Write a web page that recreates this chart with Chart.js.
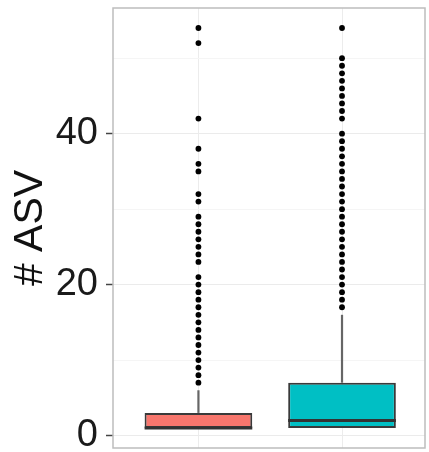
<!DOCTYPE html>
<html>
<head>
<meta charset="utf-8">
<script src="https://cdn.jsdelivr.net/npm/chart.js@4"></script>
<style>
  html, body { margin: 0; padding: 0; background: #fff; }
  #wrap { width: 429px; height: 452px; }
</style>
</head>
<body>
<div id="wrap"><canvas id="asvBox"></canvas></div>
<script>
// box summary per group (x position 1 and 2)
const groups = [1, 2];
const lowerWhisker = [1, 1];
const lowerQuartile = [1, 1];
const medians = [1, 2];
const upperQuartile = [3, 7];
const upperWhisker = [6, 16];

// outliers
const outliersA = [7, 8, 9, 10, 11, 12, 13, 14, 15, 16, 17, 18, 19, 20, 21,
    23, 24, 25, 26, 27, 28, 29, 31, 32, 35, 36, 38, 42, 52, 54];
const outliersB = [17, 18, 19, 20, 21, 22, 23, 24, 25, 26, 27, 28, 29, 30,
    31, 32, 33, 34, 35, 36, 37, 38, 39, 40, 42, 43, 44, 45, 46, 47, 48, 49, 50, 54];

const yTicks = [0, 20, 40];
const yTitle = '# ASV';

const fillColors = ['#F8766D', '#00BFC4'];
const lineColor = '#333333';

const boxData = groups.map((g, i) => ({ x: g, y: [lowerQuartile[i], upperQuartile[i]] }));
const outlierData = outliersA.map(v => ({ x: groups[0], y: v }))
    .concat(outliersB.map(v => ({ x: groups[1], y: v })));

// whiskers + median lines drawn through the chart's scales
const boxExtras = {
    id: 'boxExtras',
    afterDatasetsDraw(chart) {
        const ctx = chart.ctx;
        const xs = chart.scales.x, ys = chart.scales.y;
        const meta = chart.getDatasetMeta(0);
        ctx.save();
        groups.forEach((g, i) => {
            const cx = xs.getPixelForValue(g);
            const bar = meta.data[i];
            const half = bar.width / 2;
            ctx.strokeStyle = '#666';
            ctx.lineWidth = 2.2;
            ctx.beginPath();
            ctx.moveTo(cx, ys.getPixelForValue(upperQuartile[i]));
            ctx.lineTo(cx, ys.getPixelForValue(upperWhisker[i]));
            ctx.moveTo(cx, ys.getPixelForValue(lowerQuartile[i]));
            ctx.lineTo(cx, ys.getPixelForValue(lowerWhisker[i]));
            ctx.stroke();
            ctx.strokeStyle = lineColor;
            ctx.lineWidth = 3;
            ctx.beginPath();
            const my = ys.getPixelForValue(medians[i]);
            ctx.moveTo(cx - half, my);
            ctx.lineTo(cx + half, my);
            ctx.stroke();
        });
        ctx.restore();
    },
    afterDraw(chart) {
        const a = chart.chartArea;
        const ctx = chart.ctx;
        ctx.save();
        ctx.strokeStyle = '#bdbdbd';
        ctx.lineWidth = 1.5;
        ctx.strokeRect(a.left, a.top, a.right - a.left, a.bottom - a.top);
        ctx.restore();
    }
};

new Chart(document.getElementById('asvBox').getContext('2d'), {
    type: 'scatter',
    data: {
        datasets: [{
            type: 'bar',
            data: boxData,
            backgroundColor: fillColors,
            borderColor: '#3a3a3a',
            borderWidth: 2,
            borderSkipped: false,
            categoryPercentage: 1,
            barPercentage: 0.75,
            order: 2
        }, {
            type: 'scatter',
            data: outlierData,
            backgroundColor: '#000',
            borderColor: '#000',
            pointRadius: 2.9,
            borderWidth: 0,
            order: 1
        }]
    },
    options: {
        responsive: true,
        maintainAspectRatio: false,
        animation: false,
        layout: { padding: { top: 8, right: 2, bottom: 4, left: 0 } },
        scales: {
            x: {
                type: 'linear',
                min: 0.405,
                max: 2.578,
                offset: false,
                afterBuildTicks: s => { s.ticks = groups.map(g => ({ value: g })); },
                afterFit: s => { s.height = 0; s.paddingLeft = 0; s.paddingRight = 0; },
                ticks: { display: false },
                border: { display: false },
                grid: { color: '#ececec', lineWidth: 1, drawTicks: false, offset: false }
            },
            y: {
                min: -1.65,
                max: 56.65,
                afterFit: s => { s.width = 113; s.paddingTop = 0; s.paddingBottom = 0; },
                ticks: {
                    stepSize: 10,
                    includeBounds: false,
                    autoSkip: false,
                    padding: 8,
                    color: '#1a1a1a',
                    font: { family: "'Liberation Sans', Arial, sans-serif", size: 38 },
                    callback: v => yTicks.includes(v) ? String(v) : ''
                },
                border: { display: false },
                grid: {
                    tickLength: 7,
                    lineWidth: 1,
                    color: c => yTicks.includes(c.tick.value) ? '#ebebeb' : '#f5f5f5',
                    tickColor: c => yTicks.includes(c.tick.value) ? '#444' : 'rgba(0,0,0,0)',
                    tickWidth: 1.5
                },
                title: {
                    display: true,
                    text: yTitle,
                    color: '#111',
                    padding: { top: 6, bottom: 0 },
                    font: { family: "'Liberation Sans', Arial, sans-serif", size: 41 }
                }
            }
        },
        plugins: {
            legend: { display: false },
            tooltip: { enabled: false }
        }
    },
    plugins: [boxExtras]
});
</script>
</body>
</html>
